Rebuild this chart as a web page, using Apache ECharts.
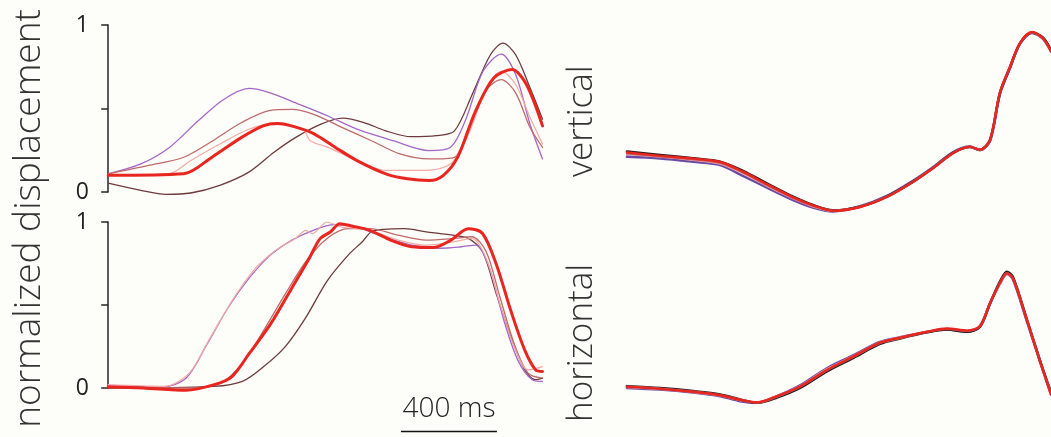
<!DOCTYPE html>
<html>
<head>
<meta charset="utf-8">
<script src="https://cdn.jsdelivr.net/npm/echarts/dist/echarts.min.js"></script>
<style>
  html, body { margin: 0; padding: 0; background: #fdfdf9; }
  #chart { width: 1051px; height: 437px; }
</style>
</head>
<body>
<div id="chart"></div>
<script>
// ---- traces: [time (ms), normalized displacement] ----
// left column, top panel
const topBrown = [[0,0.053],[136,0.01],[241,-0.014],[344,-0.006],[465,0.04],[586,0.119],[691,0.238],[782,0.327],[887,0.406],[976,0.442],[1066,0.416],[1157,0.366],[1262,0.331],[1367,0.337],[1443,0.366],[1517,0.584],[1593,0.822],[1645,0.891],[1698,0.822],[1758,0.624],[1810,0.436]];
const topPurple = [[0,0.109],[136,0.168],[255,0.267],[375,0.426],[481,0.554],[586,0.62],[675,0.594],[796,0.525],[916,0.455],[1037,0.376],[1187,0.307],[1338,0.248],[1426,0.267],[1488,0.426],[1562,0.723],[1638,0.826],[1698,0.703],[1758,0.406],[1810,0.198]];
const topRose = [[0,0.109],[165,0.158],[315,0.208],[436,0.307],[556,0.416],[675,0.489],[766,0.495],[856,0.465],[976,0.386],[1097,0.307],[1216,0.228],[1338,0.198],[1443,0.208],[1502,0.386],[1577,0.614],[1638,0.673],[1698,0.594],[1758,0.386],[1810,0.267]];
const topPink = [[0,0.10],[255,0.11],[344,0.188],[465,0.287],[586,0.376],[706,0.416],[811,0.376],[842,0.307],[916,0.267],[1037,0.188],[1157,0.129],[1307,0.129],[1426,0.168],[1502,0.347],[1577,0.624],[1638,0.723],[1698,0.644],[1758,0.446],[1810,0.287]];
const topRed = [[0,0.10],[315,0.109],[434,0.21],[556,0.327],[646,0.396],[706,0.41],[778,0.39],[856,0.35],[947,0.267],[1037,0.188],[1157,0.109],[1247,0.079],[1338,0.069],[1397,0.10],[1457,0.21],[1531,0.485],[1607,0.683],[1683,0.733],[1743,0.644],[1810,0.396]];

// left column, bottom panel
const botBrown = [[0,0],[442,0.01],[559,0.04],[648,0.129],[737,0.248],[824,0.426],[912,0.644],[1001,0.802],[1059,0.881],[1097,0.941],[1148,0.956],[1236,0.96],[1325,0.941],[1412,0.925],[1500,0.901],[1560,0.822],[1618,0.564],[1678,0.307],[1736,0.109],[1781,0.05],[1810,0.06]];
const botPurple = [[0,0.014],[221,0.006],[324,0.059],[413,0.267],[500,0.485],[588,0.663],[677,0.802],[766,0.891],[854,0.95],[941,0.984],[1030,0.97],[1148,0.911],[1265,0.861],[1383,0.842],[1472,0.851],[1531,0.861],[1589,0.723],[1649,0.406],[1707,0.168],[1767,0.05],[1810,0.04]];
const botRose = [[0,0.006],[353,0],[471,0.03],[559,0.149],[648,0.347],[737,0.564],[824,0.762],[912,0.901],[1001,0.96],[1090,0.96],[1207,0.921],[1325,0.891],[1443,0.901],[1515,0.911],[1575,0.822],[1633,0.545],[1692,0.267],[1750,0.089],[1810,0.06]];
const botPink = [[0,0.02],[235,0.01],[338,0.089],[427,0.307],[516,0.525],[603,0.703],[691,0.822],[780,0.901],[824,0.95],[851,0.93],[912,1.0],[972,0.97],[1090,0.95],[1207,0.891],[1325,0.861],[1443,0.881],[1515,0.901],[1575,0.782],[1633,0.505],[1692,0.248],[1750,0.109],[1810,0.129]];
const botRed = [[0,0.006],[145,0],[324,-0.014],[442,0.02],[516,0.069],[588,0.208],[677,0.386],[766,0.604],[838,0.782],[883,0.9],[927,0.941],[965,0.99],[1015,0.976],[1090,0.95],[1177,0.891],[1265,0.851],[1354,0.846],[1428,0.891],[1500,0.96],[1560,0.931],[1618,0.743],[1678,0.465],[1736,0.228],[1781,0.109],[1810,0.099]];

// right column: shared time base per panel, one value list per trace
const vertTime = [0,138,275,388,483,583,692,775,858,971,1083,1192,1275,1358,1429,1471,1513,1554,1596,1638,1688,1733,1767];
const vertBlack  = [0.24,0.22,0.20,0.18,0.125,0.05,-0.03,-0.08,-0.112,-0.09,-0.03,0.06,0.142,0.232,0.268,0.25,0.31,0.59,0.745,0.89,0.955,0.925,0.85];
const vertPurple = [0.21,0.20,0.18,0.16,0.095,0.025,-0.05,-0.095,-0.118,-0.088,-0.026,0.065,0.146,0.236,0.27,0.25,0.305,0.585,0.742,0.888,0.952,0.918,0.84];
const vertRose   = [0.23,0.212,0.194,0.172,0.115,0.04,-0.037,-0.085,-0.114,-0.091,-0.031,0.059,0.141,0.231,0.269,0.251,0.309,0.592,0.747,0.891,0.956,0.921,0.846];
const vertPink   = [0.225,0.21,0.19,0.168,0.11,0.035,-0.04,-0.088,-0.116,-0.09,-0.03,0.06,0.143,0.233,0.268,0.25,0.31,0.59,0.748,0.89,0.955,0.92,0.845];
const vertRed    = [0.235,0.215,0.198,0.178,0.12,0.045,-0.034,-0.082,-0.115,-0.092,-0.032,0.058,0.14,0.23,0.27,0.252,0.312,0.595,0.75,0.893,0.958,0.92,0.845];

const horizTime = [0,138,275,388,471,542,625,721,833,942,1054,1138,1250,1333,1417,1471,1513,1554,1583,1608,1667,1721,1767];
const horizBlack  = [0.01,-0.002,-0.02,-0.04,-0.07,-0.09,-0.058,0.0,0.1,0.18,0.265,0.298,0.335,0.352,0.338,0.37,0.51,0.64,0.70,0.67,0.41,0.165,-0.03];
const horizPurple = [0.0,-0.01,-0.028,-0.05,-0.08,-0.09,-0.05,0.015,0.118,0.195,0.276,0.305,0.337,0.352,0.34,0.368,0.508,0.628,0.686,0.656,0.40,0.16,-0.04];
const horizRose   = [0.008,-0.004,-0.022,-0.043,-0.071,-0.089,-0.053,0.006,0.106,0.186,0.27,0.3,0.337,0.356,0.343,0.372,0.511,0.634,0.692,0.662,0.407,0.162,-0.036];
const horizPink   = [0.004,-0.006,-0.025,-0.046,-0.074,-0.089,-0.051,0.01,0.112,0.19,0.273,0.303,0.336,0.354,0.342,0.37,0.51,0.63,0.688,0.66,0.404,0.161,-0.038];
const horizRed    = [0.006,-0.006,-0.024,-0.045,-0.072,-0.088,-0.05,0.008,0.108,0.188,0.272,0.302,0.338,0.358,0.345,0.373,0.512,0.632,0.69,0.66,0.405,0.16,-0.04];

// time scale bar
const scaleBarStart = 1220;
const scaleBarLength = 400;
const scaleBarLabel = '400 ms';

const yTickLabels = ['0', '1'];

// ---- styling ----
const colors = {
  brown: '#6d3a3c',
  purple: '#a468c8',
  rose: '#bf6a6a',
  pink: '#f2aaa4',
  red: '#e8261f',
  black: '#2c1a1c',
  darkPurple: '#6a4aa6'
};
const lightFont = "'Open Sans', 'DejaVu Sans', sans-serif";

function zip(times, values) {
  return times.map((t, i) => [t, values[i]]);
}

function trace(grid, data, color, width) {
  return {
    type: 'line',
    xAxisIndex: grid,
    yAxisIndex: grid,
    data: data,
    showSymbol: false,
    symbol: 'none',
    smooth: 0.3,
    clip: false,
    silent: true,
    lineStyle: { color: color, width: width, cap: 'round', join: 'round' }
  };
}

const leftX = { min: -30, max: 1812 };
const rightX = { min: 0, max: 1767 };

function valueYAxis(grid) {
  return {
    type: 'value',
    gridIndex: grid,
    min: 0,
    max: 1,
    interval: 0.5,
    axisLine: { show: true, lineStyle: { color: '#262626', width: 1.5 } },
    axisTick: { show: true, inside: false, length: 7, lineStyle: { color: '#262626', width: 1.5 } },
    axisLabel: {
      show: true,
      margin: 12,
      fontFamily: lightFont,
      fontSize: 23,
      color: '#222',
      formatter: v => (v === 0 ? yTickLabels[0] : v === 1 ? yTickLabels[1] : '')
    },
    splitLine: { show: false }
  };
}

function hiddenAxis(type, grid, extra) {
  return Object.assign({ type: type, gridIndex: grid, show: false }, extra);
}

const option = {
  backgroundColor: '#fdfdf9',
  animation: false,
  grid: [
    { left: 101, top: 25, width: 442, height: 167 },   // vertical, left column
    { left: 101, top: 222, width: 442, height: 166 },  // horizontal, left column
    { left: 627, top: 25, width: 424, height: 200 },   // vertical, right column
    { left: 627, top: 222, width: 424, height: 199 },  // horizontal, right column
    { left: 101, top: 426, width: 442, height: 14 }    // scale bar strip
  ],
  xAxis: [
    hiddenAxis('value', 0, leftX),
    hiddenAxis('value', 1, leftX),
    hiddenAxis('value', 2, rightX),
    hiddenAxis('value', 3, rightX),
    hiddenAxis('value', 4, leftX)
  ],
  yAxis: [
    valueYAxis(0),
    valueYAxis(1),
    hiddenAxis('value', 2, { min: -0.2, max: 1 }),
    hiddenAxis('value', 3, { min: -0.2, max: 1 }),
    hiddenAxis('value', 4, { min: 0, max: 1 })
  ],
  graphic: [
    {
      type: 'text', left: 11, top: 'middle', rotation: Math.PI / 2,
      originX: 0, originY: 0,
      style: { text: 'normalized displacement', font: '300 37px ' + lightFont, fill: '#333' }
    }
  ],
  series: [
    trace(0, topBrown, colors.brown, 1.3),
    trace(0, topPurple, colors.purple, 1.3),
    trace(0, topRose, colors.rose, 1.3),
    trace(0, topPink, colors.pink, 1.2),
    trace(0, topRed, colors.red, 3),

    trace(1, botBrown, colors.brown, 1.3),
    trace(1, botPurple, colors.purple, 1.3),
    trace(1, botRose, colors.rose, 1.3),
    trace(1, botPink, colors.pink, 1.2),
    trace(1, botRed, colors.red, 3),

    trace(2, zip(vertTime, vertPurple), colors.darkPurple, 2.6),
    trace(2, zip(vertTime, vertPink), colors.pink, 2.2),
    trace(2, zip(vertTime, vertBlack), colors.black, 2.6),
    trace(2, zip(vertTime, vertRose), colors.rose, 2.2),
    trace(2, zip(vertTime, vertRed), colors.red, 2.4),

    trace(3, zip(horizTime, horizPurple), colors.darkPurple, 2.6),
    trace(3, zip(horizTime, horizPink), colors.pink, 2.2),
    trace(3, zip(horizTime, horizBlack), colors.black, 2.6),
    trace(3, zip(horizTime, horizRose), colors.rose, 2.2),
    trace(3, zip(horizTime, horizRed), colors.red, 2.4),

    {
      type: 'line',
      xAxisIndex: 4,
      yAxisIndex: 4,
      data: [[scaleBarStart, 0.5], [scaleBarStart + scaleBarLength, 0.5]],
      symbol: 'none',
      silent: true,
      lineStyle: { color: '#111', width: 1.5 }
    },
    {
      type: 'scatter',
      xAxisIndex: 4,
      yAxisIndex: 4,
      data: [[scaleBarStart + scaleBarLength / 2, 0.5]],
      symbolSize: 0,
      silent: true,
      itemStyle: { opacity: 1, color: '#222' },
      label: {
        show: true,
        position: 'top',
        distance: 8,
        formatter: scaleBarLabel,
        fontFamily: lightFont,
        fontWeight: 300,
        fontSize: 28,
        color: '#222'
      }
    }
  ]
};

// panel captions for the right column
['vertical', 'horizontal'].forEach((name, i) => {
  option.graphic.push({
    type: 'text',
    rotation: Math.PI / 2,
    x: 565,
    y: i === 0 ? 177 : 422,
    style: { text: name, font: '300 35px ' + lightFont, fill: '#333' }
  });
});

const chart = echarts.init(document.getElementById('chart'), null, { renderer: 'canvas' });
chart.setOption(option);
</script>
</body>
</html>
